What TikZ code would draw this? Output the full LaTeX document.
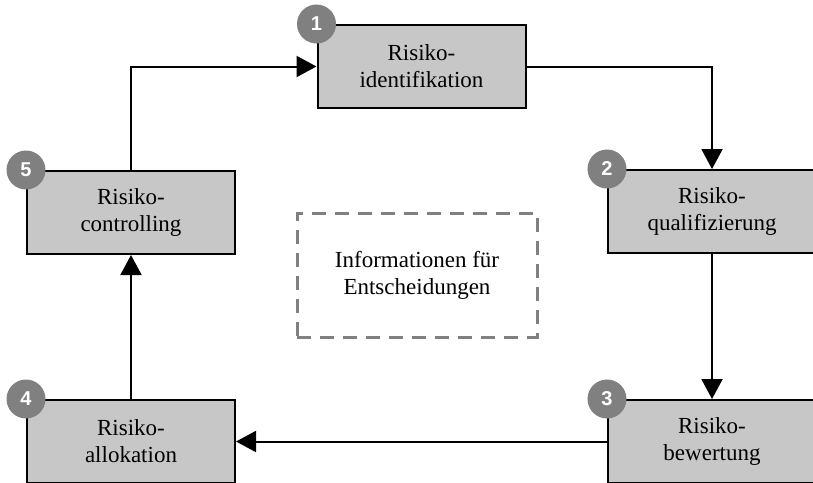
\documentclass[tikz,border=0pt]{standalone}
\usepackage{fontspec}
\setmainfont{Liberation Serif}
\newfontfamily\numfont{Liberation Sans}
\usetikzlibrary{arrows.meta}

\begin{document}
\begin{tikzpicture}[x=1pt,y=-1pt,
  stage/.style={draw=black,line width=2pt,fill=black!22,minimum width=208pt,minimum height=83pt,
    align=center,inner sep=0pt,font=\fontsize{23}{27}\selectfont},
  stagenum/.style={circle,fill=black!50,text=white,minimum size=39pt,inner sep=0pt,
    font=\numfont\bfseries\fontsize{20}{20}\selectfont},
  infobox/.style={draw=black!50,line width=3pt,dash pattern=on 14pt off 9pt,minimum width=240pt,
    minimum height=124pt,align=center,font=\fontsize{23}{27}\selectfont},
  flow/.style={line width=2pt,-{Triangle[length=20pt,width=21pt]}}]

  \useasboundingbox (0,0) rectangle (813,482);
  \clip (0,0) rectangle (813,482);

  % the five steps of the cycle
  \node [stage] (r-ident) at (421.5,66.5) {Risiko-\\identifikation};
  \node [stage] (r-qual)  at (712,211.5)  {Risiko-\\qualifizierung};
  \node [stage] (r-bew)   at (712,441.5)  {Risiko-\\bewertung};
  \node [stage] (r-alloc) at (131,441.5)  {Risiko-\\allokation};
  \node [stage] (r-contr) at (131,212.5)  {Risiko-\\controlling};

  % centre
  \node [infobox] (info) at (417,275) {Informationen f\"ur\\Entscheidungen};

  % numbers
  \node [stagenum] (n-ident) at (r-ident.north west) {1};
  \node [stagenum] (n-qual)  at (r-qual.north west)  {2};
  \node [stagenum] (n-bew)   at (r-bew.north west)   {3};
  \node [stagenum] (n-alloc) at (r-alloc.north west) {4};
  \node [stagenum] (n-contr) at (r-contr.north west) {5};

  % connections
  \draw [flow] (r-ident.east) -| (r-qual.north);
  \draw [flow] (r-qual.south) -- (r-bew.north);
  \draw [flow] (r-bew.west) -- (r-alloc.east);
  \draw [flow] (r-alloc.north) -- (r-contr.south);
  \draw [flow] (r-contr.north) |- (r-ident.west);
\end{tikzpicture}
\end{document}
